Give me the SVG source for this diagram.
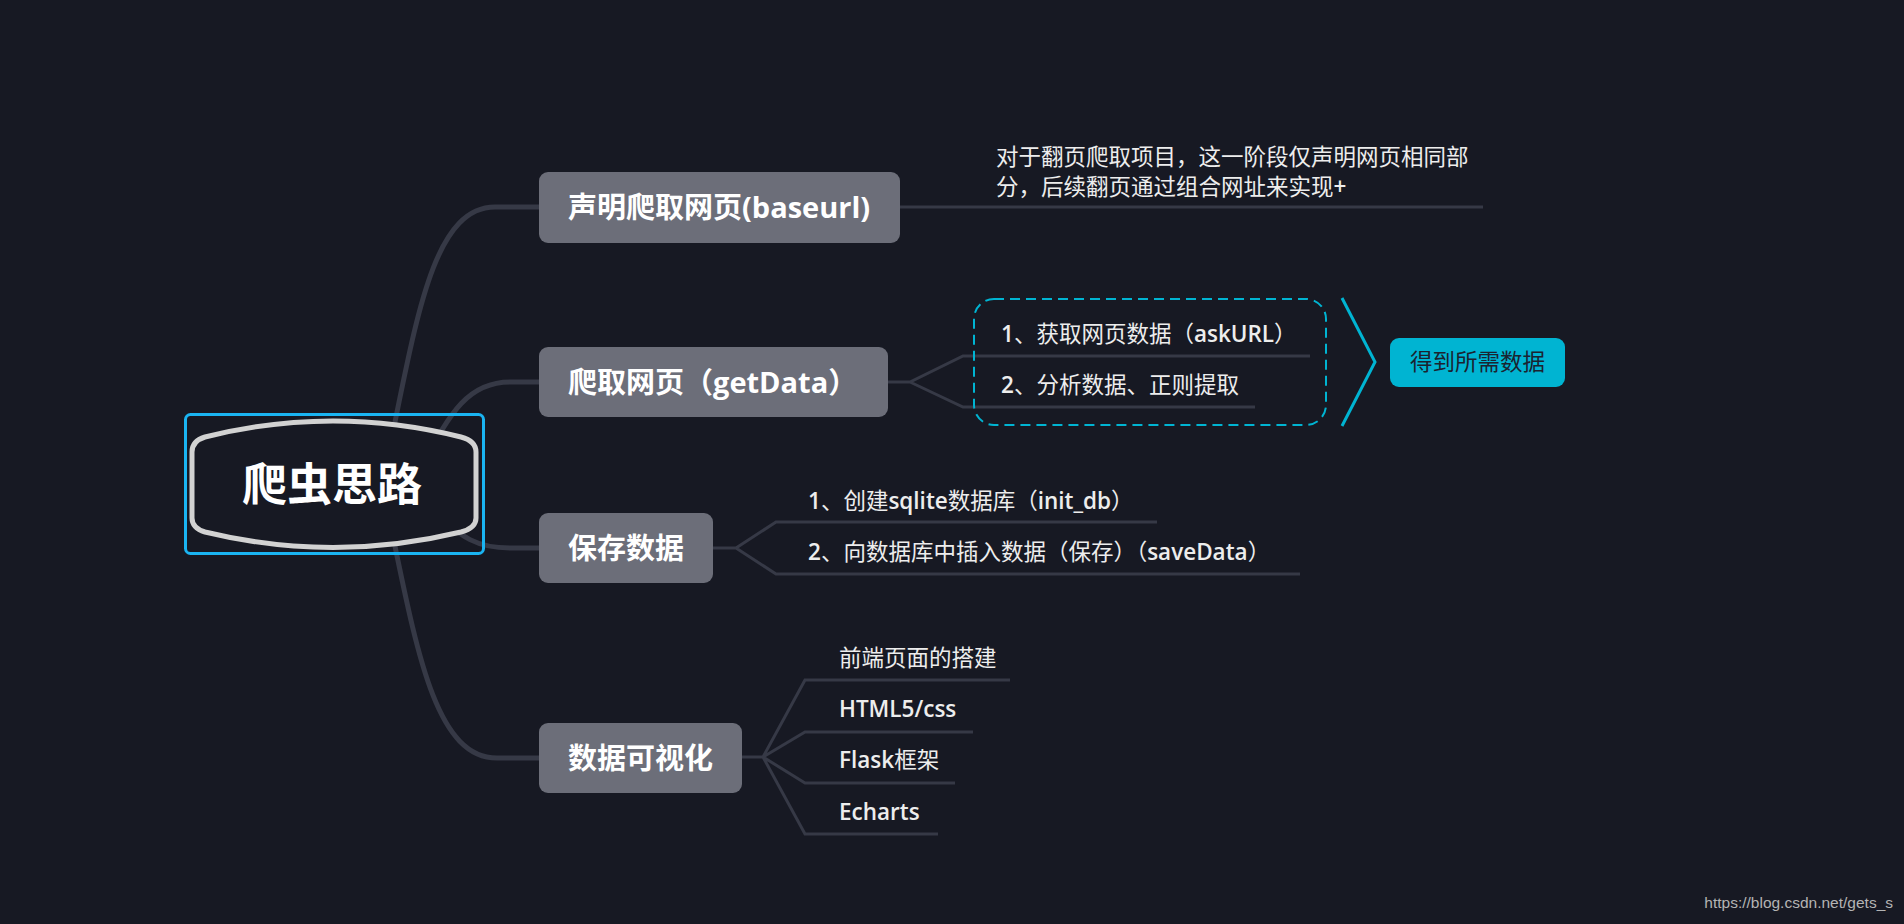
<svg xmlns="http://www.w3.org/2000/svg" width="1904" height="924" viewBox="0 0 1904 924">
<style>
.node{fill:#6c6e79}
.nt{font-family:"Open Sans","Noto Sans CJK SC",sans-serif;font-size:29px;font-weight:700;fill:#ffffff}
.st{font-family:"Open Sans","Noto Sans CJK SC",sans-serif;font-size:22.5px;font-weight:400;fill:#ededed}
.lb{font-weight:600}
.br{fill:none;stroke:#363946;stroke-width:5;stroke-linecap:round}
.sb{fill:none;stroke:#363946;stroke-width:3}
</style>
<rect x="0" y="0" width="1904" height="924" fill="#171923"/>
<g id="connectors">
<path class="br" d="M385 470 C415 330 430 207 495 207 H540"/>
<path class="br" d="M420 470 C450 410 470 382 510 382 H540"/>
<path class="br" d="M430 505 C460 540 480 548 510 548 H540"/>
<path class="br" d="M385 498 C415 640 432 758 497 758 H540"/>
<path class="sb" d="M900 207 H1483"/>
<path class="sb" d="M888 382 H910 L963 356 H1310 M910 382 L963 407 H1255"/>
<path class="sb" d="M713 548 H736 L776 522 H1157 M736 548 L776 574 H1300"/>
<path class="sb" d="M742 757 H763 L805 680 H1010 M763 757 L805 732 H973 M763 757 L805 783 H955 M763 757 L805 834 H938"/>
</g>
<g id="center">
<rect x="185.5" y="414.5" width="298" height="139" rx="5" fill="none" stroke="#1ab4f2" stroke-width="3"/>
<path d="M205 437 Q333 405 461 437 Q476 441 476 452 L476 518 Q476 528 461 532 Q333 563 205 532 Q192 528 192 518 L192 452 Q192 441 205 437 Z" fill="#171923" stroke="#d2d2d2" stroke-width="5"/>
<text x="332" y="501" text-anchor="middle" font-family="Noto Sans CJK SC,sans-serif" font-size="45" font-weight="700" fill="#ffffff">爬虫思路</text>
</g>
<g id="n1">
<rect class="node" x="539" y="172" width="361" height="71" rx="9"/>
<text class="nt" x="568" y="218">声明爬取网页(baseurl)</text>
</g>
<g id="n1a">
<text class="st" x="996" y="165">对于翻页爬取项目，这一阶段仅声明网页相同部</text>
<text class="st" x="996" y="195">分，后续翻页通过组合网址来实现<tspan class="lb">+</tspan></text>
</g>
<g id="n2">
<rect class="node" x="539" y="347" width="349" height="70" rx="9"/>
<text class="nt" x="568" y="393">爬取网页（getData）</text>
</g>
<g id="n2group">
<rect x="974" y="299" width="352" height="126" rx="20" fill="none" stroke="#00b4d2" stroke-width="2" stroke-dasharray="10 6"/>
<path d="M1342 298 L1375 362 L1342 426" fill="none" stroke="#00b4d2" stroke-width="3"/>
</g>
<g id="n2a"><text class="st" x="1001" y="342"><tspan class="lb">1</tspan>、获取网页数据（<tspan class="lb">askURL</tspan>）</text></g>
<g id="n2b"><text class="st" x="1001" y="393"><tspan class="lb">2</tspan>、分析数据、正则提取</text></g>
<g id="summary">
<rect x="1390" y="338" width="175" height="49" rx="9" fill="#00b4d2"/>
<text x="1477.5" y="370" text-anchor="middle" font-family="Noto Sans CJK SC,sans-serif" font-size="22.5" fill="#1b2330">得到所需数据</text>
</g>
<g id="n3">
<rect class="node" x="539" y="513" width="174" height="70" rx="9"/>
<text class="nt" x="568" y="559">保存数据</text>
</g>
<g id="n3a"><text class="st" x="808" y="509"><tspan class="lb">1</tspan>、创建<tspan class="lb">sqlite</tspan>数据库（<tspan class="lb">init_db</tspan>）</text></g>
<g id="n3b"><text class="st" x="808" y="560"><tspan class="lb">2</tspan>、向数据库中插入数据（保存）（<tspan class="lb">saveData</tspan>）</text></g>
<g id="n4">
<rect class="node" x="539" y="723" width="203" height="70" rx="9"/>
<text class="nt" x="568" y="769">数据可视化</text>
</g>
<g id="n4a"><text class="st" x="839" y="666">前端页面的搭建</text></g>
<g id="n4b"><text class="st lb" x="839" y="717">HTML5/css</text></g>
<g id="n4c"><text class="st" x="839" y="768"><tspan class="lb">Flask</tspan>框架</text></g>
<g id="n4d"><text class="st lb" x="839" y="820">Echarts</text></g>
<text x="1893" y="908" text-anchor="end" font-family="Liberation Sans,Arial,sans-serif" font-size="15.5" fill="#b4b4b4">https://blog.csdn.net/gets_s</text>
</svg>
